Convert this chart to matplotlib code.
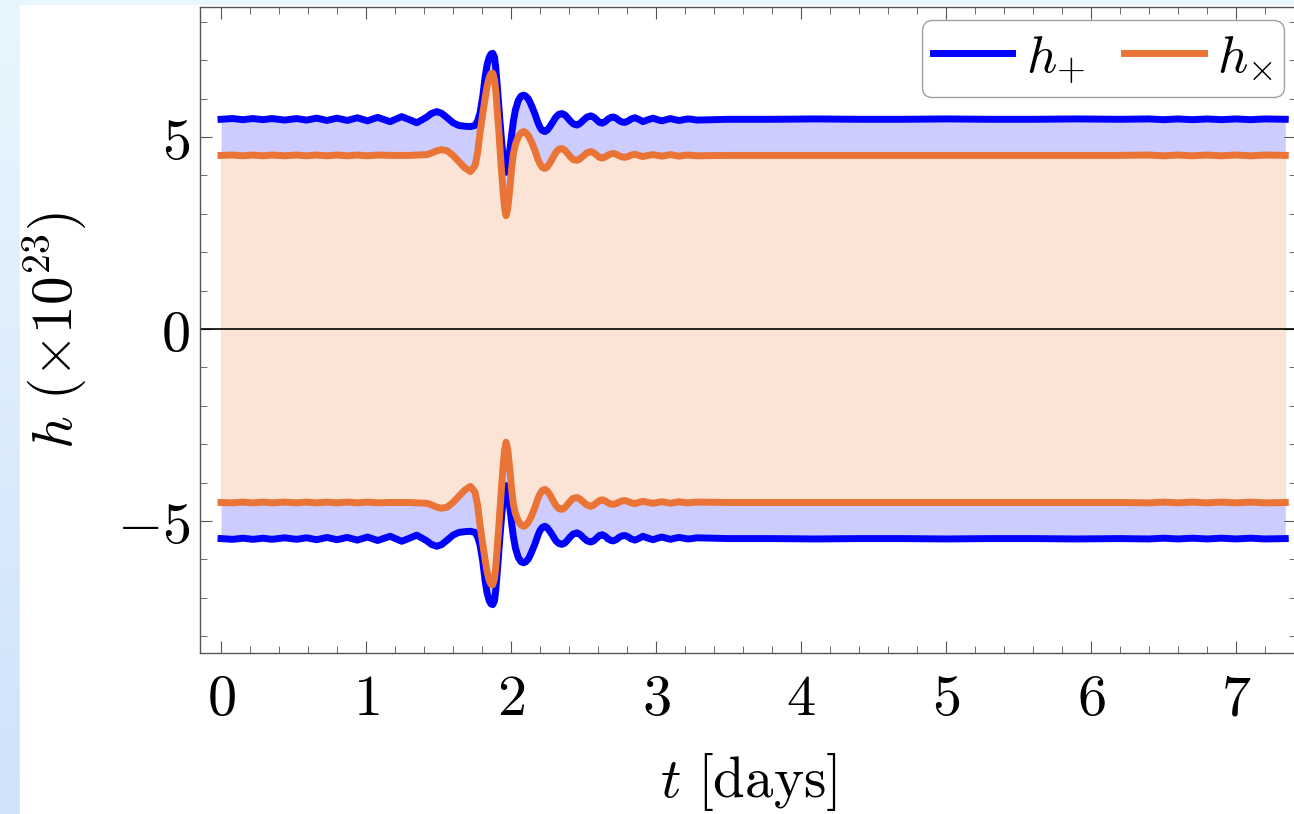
import matplotlib.pyplot as plt
import numpy as np
import matplotlib as mpl
from matplotlib.patches import Rectangle

params = {
    "mathtext.fontset": "cm",
    "font.family": "serif",
    "font.serif": ["DejaVu Serif"],
    "xtick.direction": "in",
    "ytick.direction": "in",
    "xtick.top": True,
    "ytick.right": True,
    "xtick.major.size": 8.5,
    "xtick.minor.size": 5,
    "ytick.major.size": 8.5,
    "ytick.minor.size": 5,
    "xtick.color": "#555555",
    "ytick.color": "#555555",
    "axes.edgecolor": "#555555",
    "axes.linewidth": 1.0,
}
mpl.rcParams.update(params)

# upper envelope of the strain (lower branch = mirror image)
t_days = [
    0.00, 0.08, 0.15, 0.22, 0.29, 0.35, 0.44, 0.52, 0.59, 0.66, 0.73, 0.80,
    0.87, 0.94, 1.01, 1.08, 1.166, 1.246, 1.30, 1.35, 1.42, 1.45, 1.488,
    1.52, 1.56, 1.60, 1.64, 1.68, 1.72, 1.752, 1.77, 1.786, 1.805, 1.821,
    1.835, 1.85, 1.862, 1.874, 1.886, 1.895, 1.905, 1.915, 1.924, 1.935,
    1.945, 1.956, 1.966, 1.978, 1.993, 2.005, 2.016, 2.03, 2.05, 2.068,
    2.085, 2.10, 2.12, 2.14, 2.165, 2.185, 2.20, 2.215, 2.234, 2.25, 2.27,
    2.29, 2.31, 2.33, 2.35, 2.37, 2.39, 2.41, 2.43, 2.455, 2.475, 2.50,
    2.525, 2.55, 2.57, 2.59, 2.61, 2.63, 2.65, 2.67, 2.69, 2.706, 2.725,
    2.745, 2.765, 2.786, 2.805, 2.83, 2.855, 2.88, 2.91, 2.945, 2.98, 3.01,
    3.04, 3.07, 3.10, 3.13, 3.16, 3.19, 3.22, 3.25, 3.28, 3.5, 3.8, 4.1,
    4.4, 4.7, 5.0, 5.3, 5.6, 5.9, 6.2, 6.4, 6.5, 6.6, 6.7, 6.8, 6.9, 7.0,
    7.1, 7.2, 7.34,
]
h_plus = [
    5.46, 5.48, 5.45, 5.48, 5.45, 5.48, 5.44, 5.48, 5.44, 5.49, 5.43, 5.49,
    5.43, 5.50, 5.42, 5.51, 5.40, 5.53, 5.45, 5.37, 5.52, 5.61, 5.66,
    5.62, 5.50, 5.37, 5.30, 5.28, 5.27, 5.30, 5.42, 5.62, 6.05, 6.55,
    6.88, 7.08, 7.16, 7.18, 7.08, 6.80, 6.35, 5.85, 5.40, 4.90,
    4.50, 4.20, 4.08, 4.22, 4.70, 5.08, 5.40, 5.70, 5.95, 6.06,
    6.09, 6.07, 5.99, 5.83, 5.60, 5.38, 5.25, 5.17, 5.14, 5.18, 5.28,
    5.40, 5.52, 5.59, 5.61, 5.58, 5.50, 5.41, 5.34, 5.31, 5.35, 5.44,
    5.52, 5.55, 5.52, 5.45, 5.38, 5.36, 5.40, 5.47, 5.51, 5.52, 5.49,
    5.43, 5.39, 5.38, 5.41, 5.47, 5.50, 5.46, 5.40, 5.45, 5.49, 5.45,
    5.42, 5.45, 5.48, 5.45, 5.43, 5.45, 5.47, 5.46, 5.44, 5.46, 5.46, 5.47,
    5.46, 5.46, 5.47, 5.46, 5.46, 5.47, 5.46, 5.47, 5.45, 5.47, 5.45, 5.47,
    5.45, 5.47, 5.45, 5.47, 5.46,
]
h_cross = [
    4.52, 4.53, 4.51, 4.53, 4.51, 4.53, 4.51, 4.53, 4.51, 4.53, 4.51, 4.53,
    4.51, 4.53, 4.51, 4.53, 4.52, 4.52, 4.52, 4.53, 4.54, 4.58, 4.64,
    4.67, 4.64, 4.52, 4.36, 4.20, 4.10, 4.25, 4.60, 5.10, 5.60, 6.00,
    6.32, 6.55, 6.65, 6.66, 6.50, 6.20, 5.70, 5.20, 4.70, 4.10,
    3.60, 3.15, 2.95, 3.15, 3.70, 4.20, 4.55, 4.80, 5.00, 5.10,
    5.14, 5.12, 5.03, 4.88, 4.65, 4.42, 4.30, 4.21, 4.18, 4.22, 4.33,
    4.47, 4.60, 4.68, 4.70, 4.66, 4.57, 4.48, 4.41, 4.39, 4.43, 4.51,
    4.59, 4.62, 4.59, 4.53, 4.47, 4.45, 4.48, 4.53, 4.56, 4.57, 4.55,
    4.51, 4.48, 4.47, 4.49, 4.53, 4.55, 4.52, 4.49, 4.52, 4.54, 4.52,
    4.50, 4.52, 4.54, 4.52, 4.50, 4.52, 4.53, 4.52, 4.51, 4.52, 4.52, 4.52,
    4.52, 4.52, 4.52, 4.52, 4.52, 4.52, 4.52, 4.53, 4.51, 4.53, 4.51, 4.53,
    4.51, 4.53, 4.51, 4.53, 4.52,
]

x_ticks = [0, 1, 2, 3, 4, 5, 6, 7]
y_ticks = [-5, 0, 5]

t = np.array(t_days)
hp = np.array(h_plus)
hx = np.array(h_cross)

blue = "#0000ff"
orange = "#ea7436"

fig = plt.figure(figsize=(12.94, 8.14), dpi=100)

# slide background: pale blue gradient behind a white card
bg = fig.add_axes([0, 0, 1, 1], zorder=-10)
grad = np.linspace(0, 1, 256)[:, None]
cmap = mpl.colors.LinearSegmentedColormap.from_list("bg", ["#e8f6fd", "#cfe2fa"])
bg.imshow(grad, aspect="auto", cmap=cmap, extent=[0, 1, 0, 1])
bg.add_patch(Rectangle((20 / 1294, 0), 1, 1 - 5 / 814, color="white"))
bg.set_xlim(0, 1)
bg.set_ylim(0, 1)
bg.axis("off")

ax = fig.add_axes([200 / 1294, 161 / 814, 1096 / 1294, 646 / 814])
ax.patch.set_alpha(0)

ax.fill_between(t, -hp, hp, color="#ccccff", lw=0)
ax.fill_between(t, -hx, hx, color="#fbe3d6", lw=0)
ax.axhline(0, color="black", lw=1.2)

ax.plot(t, hp, color=blue, lw=5, label=r"$h_{+}$")
ax.plot(t, -hp, color=blue, lw=5)
ax.plot(t, hx, color=orange, lw=5, label=r"$h_{\times}$")
ax.plot(t, -hx, color=orange, lw=5)

ax.set_xlim(-0.145, 7.414)
ax.set_ylim(-8.44, 8.385)

ax.set_xticks(x_ticks)
ax.set_xticklabels([f"${v}$" for v in x_ticks])
ax.set_xticks(np.arange(0, 7.5, 0.2), minor=True)
ax.set_yticks(y_ticks)
ax.set_yticklabels([f"${v}$" for v in y_ticks])
ax.set_yticks(np.arange(-8, 9, 1), minor=True)
ax.tick_params(axis="both", which="major", labelsize=42, labelcolor="black")
ax.tick_params(axis="x", which="major", pad=13)
ax.tick_params(axis="y", which="major", pad=7)

ax.set_xlabel(r"$t\ [\mathrm{days}]$", fontsize=41, labelpad=17)
ax.set_ylabel(r"$h\ (\times 10^{23})$", fontsize=41, labelpad=20)

leg = ax.legend(
    loc="upper right",
    bbox_to_anchor=(1284 / 1294, 794 / 814),
    bbox_transform=fig.transFigure,
    ncol=2,
    fontsize=38,
    frameon=True,
    fancybox=True,
    borderaxespad=0,
    handlelength=1.5,
    handletextpad=0.25,
    columnspacing=0.75,
    borderpad=0.22,
)
leg.get_frame().set_edgecolor("#888888")
leg.get_frame().set_linewidth(1.0)
for line in leg.get_lines():
    line.set_linewidth(5)

plt.savefig("out.png", dpi=100)
